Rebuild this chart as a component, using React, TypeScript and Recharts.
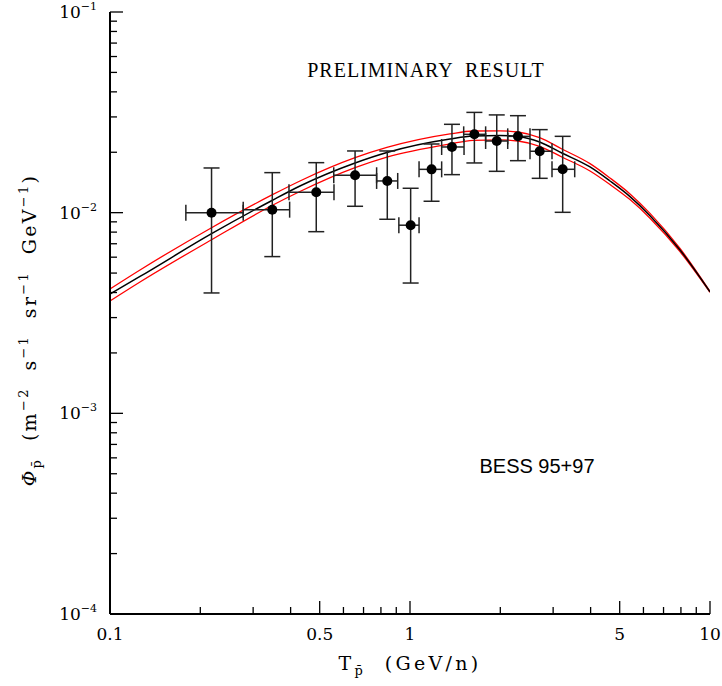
import * as React from "react";
import {
  ComposedChart,
  Line,
  Scatter,
  ErrorBar,
  XAxis,
  YAxis,
  Label,
  Customized,
} from "recharts";

// model curve (black) with its uncertainty band (red)
const curveT = [0.1, 0.1259, 0.2173, 0.3467, 0.4297, 0.6561, 0.8375, 1.3593, 1.6218, 1.9953, 2.2909, 2.704, 3.2063, 3.9811, 4.6416, 5.4117, 6.3096, 7.9433, 10];
const curveMid = [0.003935, 0.004809, 0.007833, 0.011503, 0.013583, 0.017688, 0.01995, 0.023301, 0.0241, 0.02424, 0.02396, 0.022502, 0.01984, 0.016894, 0.01438, 0.012024, 0.009661, 0.00652, 0.00403];
const curveHigh = [0.004168, 0.005182, 0.008392, 0.012254, 0.014386, 0.018799, 0.02113, 0.024679, 0.025525, 0.025584, 0.02523, 0.02364, 0.020772, 0.017546, 0.014884, 0.012402, 0.009919, 0.006633, 0.004053];
const curveLow = [0.003631, 0.004514, 0.007311, 0.010861, 0.012751, 0.016759, 0.018902, 0.022, 0.02294, 0.023073, 0.022754, 0.021419, 0.01895, 0.016136, 0.013814, 0.011617, 0.009388, 0.006394, 0.004007];

// BESS 95+97 antiproton points
const pointT = [0.218, 0.3475, 0.487, 0.656, 0.84, 1.005, 1.18, 1.38, 1.639, 1.946, 2.29, 2.706, 3.228];
const pointFlux = [0.01, 0.01035, 0.01264, 0.01536, 0.01439, 0.00866, 0.01644, 0.02125, 0.02457, 0.02276, 0.02401, 0.02023, 0.01645];
const binLow = [0.179, 0.278, 0.395, 0.557, 0.774, 0.918, 1.072, 1.275, 1.51, 1.787, 2.117, 2.512, 2.974];
const binHigh = [0.278, 0.397, 0.558, 0.774, 0.91, 1.072, 1.275, 1.514, 1.787, 2.117, 2.512, 2.974, 3.54];
const fluxLow = [0.00398, 0.00604, 0.00804, 0.01076, 0.00927, 0.00446, 0.0114, 0.01547, 0.01769, 0.01607, 0.01816, 0.01483, 0.01004];
const fluxHigh = [0.0167, 0.01583, 0.01775, 0.0203, 0.0203, 0.01323, 0.02199, 0.02756, 0.0316, 0.0307, 0.03043, 0.02593, 0.02401];

const xTicks = [0.1, 0.2, 0.3, 0.4, 0.5, 0.6, 0.7, 0.8, 0.9, 1, 2, 3, 4, 5, 6, 7, 8, 9, 10];
const xLabeled = [0.1, 0.5, 1, 5, 10];
const yDecades = [1e-4, 1e-3, 1e-2, 1e-1];
const yExponents = ["−4", "−3", "−2", "−1"];
const yMinor = [2, 3, 4, 5, 6, 7, 8, 9];
const yTicks = [
  ...yDecades,
  ...yDecades.slice(0, 3).flatMap((d) => yMinor.map((m) => m * d)),
].sort((a, b) => a - b);

const curveRows = curveT.map((t, i) => ({
  x: t,
  mid: curveMid[i],
  high: curveHigh[i],
  low: curveLow[i],
}));

const pointRows = pointT.map((t, i) => ({
  x: t,
  y: pointFlux[i],
  ex: [t - binLow[i], binHigh[i] - t],
  ey: [pointFlux[i] - fluxLow[i], fluxHigh[i] - pointFlux[i]],
}));

const W = 722;
const H = 686;
const FONT = "'DejaVu Serif', serif";
const MAJOR = 13;
const MINOR = 7;

const isDecade = (v: number) =>
  Math.abs(Math.log10(v) - Math.round(Math.log10(v))) < 1e-9;

function BottomTick({ x, y, payload }: any) {
  const v = payload.value;
  const major = xLabeled.includes(v);
  return (
    <g>
      <line x1={x} x2={x} y1={y} y2={y - (major ? MAJOR : MINOR)} stroke="#000" strokeWidth={1.3} />
      {major && (
        <text x={x} y={y + 26} textAnchor="middle" fontSize={17} fontFamily={FONT} fill="#000">
          {String(v)}
        </text>
      )}
    </g>
  );
}

function TopTick({ x, y, payload }: any) {
  const major = xLabeled.includes(payload.value);
  return <line x1={x} x2={x} y1={y} y2={y + (major ? MAJOR : MINOR)} stroke="#000" strokeWidth={1.3} />;
}

function LeftTick({ x, y, payload }: any) {
  const v = payload.value;
  const major = isDecade(v);
  const k = yDecades.findIndex((d) => Math.abs(d - v) / d < 1e-6);
  return (
    <g>
      <line x1={x} x2={x + (major ? MAJOR : MINOR)} y1={y} y2={y} stroke="#000" strokeWidth={1.3} />
      {major && (
        <text x={x - 13} y={y + 6} textAnchor="end" fontSize={17} fontFamily={FONT} fill="#000">
          <tspan>10</tspan>
          <tspan dy={-8} fontSize={11}>{yExponents[k]}</tspan>
        </text>
      )}
    </g>
  );
}

function RightTick({ x, y, payload }: any) {
  const major = isDecade(payload.value);
  return <line x1={x} x2={x - (major ? MAJOR : MINOR)} y1={y} y2={y} stroke="#000" strokeWidth={1.3} />;
}

function YTitle() {
  const cx = 36;
  const cy = 330;
  return (
    <text
      x={cx}
      y={cy}
      transform={`rotate(-90, ${cx}, ${cy})`}
      textAnchor="middle"
      fontSize={19}
      letterSpacing={2.3}
      fontFamily={FONT}
      fill="#000"
      style={{ whiteSpace: "pre" }}
    >
      <tspan fontStyle="italic">Φ</tspan>
      <tspan dy={5} fontSize={13}>p̄</tspan>
      <tspan dy={-5}>{"  (m"}</tspan>
      <tspan dy={-8} fontSize={13}>−2</tspan>
      <tspan dy={8}>{"  s"}</tspan>
      <tspan dy={-8} fontSize={13}>−1</tspan>
      <tspan dy={8}>{"  sr"}</tspan>
      <tspan dy={-8} fontSize={13}>−1</tspan>
      <tspan dy={8}>{"  GeV"}</tspan>
      <tspan dy={-8} fontSize={13}>−1</tspan>
      <tspan dy={8}>)</tspan>
    </text>
  );
}

function XTitle() {
  return (
    <text x={410} y={670} textAnchor="middle" fontSize={19} letterSpacing={3.3} fontFamily={FONT} fill="#000" style={{ whiteSpace: "pre" }}>
      <tspan>T</tspan>
      <tspan dy={5} fontSize={13}>p̄</tspan>
      <tspan dy={-5}>{"  (GeV/n)"}</tspan>
    </text>
  );
}

function Notes() {
  return (
    <g>
      <text x={426} y={77} textAnchor="middle" fontSize={20} fontFamily="'Liberation Serif', serif" letterSpacing={1} fill="#000" style={{ whiteSpace: "pre" }}>
        {"PRELIMINARY  RESULT"}
      </text>
      <text x={537} y={473} textAnchor="middle" fontSize={20} fontFamily="'Liberation Sans', Arial, sans-serif" fill="#000">
        BESS 95+97
      </text>
      <XTitle />
    </g>
  );
}

export default function App() {
  return (
    <div style={{ position: "absolute", left: 0, top: 0, width: W, height: H, background: "#fff" }}>
      <ComposedChart
        width={W}
        height={H}
        data={curveRows}
        margin={{ top: 12, right: 12, left: 0, bottom: 0 }}
      >
        <XAxis
          dataKey="x"
          type="number"
          scale="log"
          domain={[0.1, 10]}
          allowDataOverflow
          ticks={xTicks}
          interval={0}
          height={72}
          tickSize={0}
          tickMargin={0}
          tickLine={false}
          axisLine={{ stroke: "#000", strokeWidth: 2 }}
          tick={<BottomTick />}
        />
        <XAxis
          xAxisId="top"
          orientation="top"
          dataKey="x"
          type="number"
          scale="log"
          domain={[0.1, 10]}
          allowDataOverflow
          ticks={xTicks}
          interval={0}
          height={0}
          tickSize={0}
          tickMargin={0}
          tickLine={false}
          axisLine={{ stroke: "#000", strokeWidth: 2 }}
          tick={<TopTick />}
        />
        <YAxis
          type="number"
          scale="log"
          domain={[1e-4, 1e-1]}
          allowDataOverflow
          ticks={yTicks}
          interval={0}
          width={110}
          tickSize={0}
          tickMargin={0}
          tickLine={false}
          axisLine={{ stroke: "#000", strokeWidth: 2 }}
          tick={<LeftTick />}
        >
          <Label content={<YTitle />} />
        </YAxis>
        <YAxis
          yAxisId="right"
          orientation="right"
          type="number"
          scale="log"
          domain={[1e-4, 1e-1]}
          allowDataOverflow
          ticks={yTicks}
          interval={0}
          width={0}
          tickSize={0}
          tickMargin={0}
          tickLine={false}
          axisLine={{ stroke: "#000", strokeWidth: 2 }}
          tick={<RightTick />}
        />
        <Line dataKey="high" type="monotoneX" stroke="#ff0000" strokeWidth={1.3} dot={false} activeDot={false} isAnimationActive={false} />
        <Line dataKey="low" type="monotoneX" stroke="#ff0000" strokeWidth={1.3} dot={false} activeDot={false} isAnimationActive={false} />
        <Line dataKey="mid" type="monotoneX" stroke="#000" strokeWidth={1.5} dot={false} activeDot={false} isAnimationActive={false} />
        <Scatter
          data={pointRows}
          dataKey="y"
          isAnimationActive={false}
          shape={(p: any) => <circle cx={p.cx} cy={p.cy} r={5} fill="#000" />}
        >
          <ErrorBar dataKey="ey" direction="y" width={8} stroke="#222" strokeWidth={1.5} />
          <ErrorBar dataKey="ex" direction="x" width={8} stroke="#222" strokeWidth={1.5} />
        </Scatter>
        <Customized component={Notes} />
      </ComposedChart>
    </div>
  );
}
